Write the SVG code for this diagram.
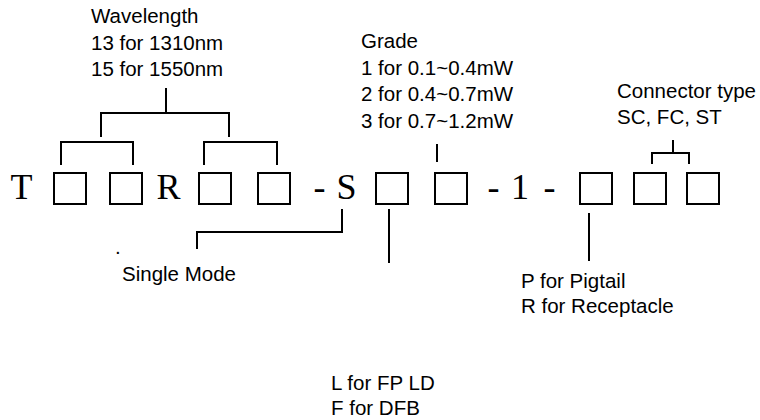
<svg xmlns="http://www.w3.org/2000/svg" width="760" height="420" viewBox="0 0 760 420">
<style>
.lbl{font-family:"Liberation Sans",Arial,sans-serif;font-size:20.5px;fill:#000}
.big{font-family:"Liberation Serif","Times New Roman",serif;font-size:36px;fill:#000}
.box{fill:#fff;stroke:#000;stroke-width:2}
.ln{fill:none;stroke:#000;stroke-width:2}
</style>
<rect width="760" height="420" fill="#fff"/>
<g id="code">
<text class="big" x="10.5" y="199">T</text>
<g id="box1"><rect class="box" x="54" y="173" width="32" height="31"/></g>
<g id="box2"><rect class="box" x="110" y="173" width="32" height="31"/></g>
<text class="big" x="156.5" y="199">R</text>
<g id="box3"><rect class="box" x="199" y="173" width="32" height="31"/></g>
<g id="box4"><rect class="box" x="258" y="173" width="32" height="31"/></g>
<text class="big" x="313.5" y="199">-</text>
<text class="big" x="336.5" y="199">S</text>
<g id="box5"><rect class="box" x="376" y="173" width="32" height="31"/></g>
<g id="box6"><rect class="box" x="435" y="173" width="32" height="31"/></g>
<text class="big" x="487.5" y="199">-</text>
<text class="big" x="511" y="199">1</text>
<text class="big" x="543.5" y="199">-</text>
<g id="box7"><rect class="box" x="580" y="173" width="32" height="31"/></g>
<g id="box8"><rect class="box" x="634" y="173" width="32" height="31"/></g>
<g id="box9"><rect class="box" x="687" y="173" width="32" height="31"/></g>
</g>
<g id="wavelength">
<text class="lbl" x="91" y="23">Wavelength</text>
<text class="lbl" x="91" y="49.5">13 for 1310nm</text>
<text class="lbl" x="91" y="76">15 for 1550nm</text>
</g>
<g id="grade">
<text class="lbl" x="361" y="48">Grade</text>
<text class="lbl" x="361" y="75">1 for 0.1~0.4mW</text>
<text class="lbl" x="361" y="101">2 for 0.4~0.7mW</text>
<text class="lbl" x="361" y="128">3 for 0.7~1.2mW</text>
</g>
<g id="connector-type">
<text class="lbl" x="617" y="98">Connector type</text>
<text class="lbl" x="617" y="124">SC, FC, ST</text>
</g>
<g id="single-mode">
<text class="lbl" x="115" y="254">.</text>
<text class="lbl" x="122" y="281">Single Mode</text>
</g>
<g id="pigtail">
<text class="lbl" x="521" y="288">P for Pigtail</text>
<text class="lbl" x="521" y="313">R for Receptacle</text>
</g>
<g id="ld-type">
<text class="lbl" x="331" y="390">L for FP LD</text>
<text class="lbl" x="331" y="415">F for DFB</text>
</g>
<g id="connectors">
<path class="ln" d="M166 88V113M101 137V113H229V137"/>
<path class="ln" d="M61 165V142H133V165"/>
<path class="ln" d="M204 165V142H277V165"/>
<path class="ln" d="M437 144V162"/>
<path class="ln" d="M673 140V153M652 164V153H689V164"/>
<path class="ln" d="M342 209V232H197V249"/>
<path class="ln" d="M389 209V263"/>
<path class="ln" d="M589 213V261"/>
</g>
</svg>
